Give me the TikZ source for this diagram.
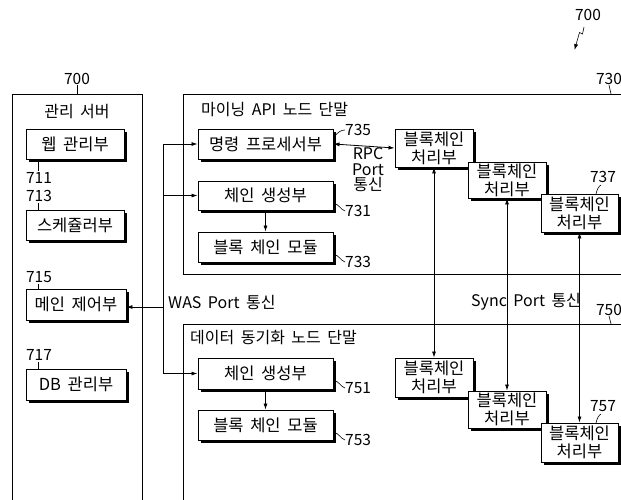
\documentclass[tikz,border=0pt]{standalone}
\usepackage{fontspec}
\setmainfont{Noto Sans CJK KR}[WordSpace=1.8]
\usetikzlibrary{shadows,arrows.meta}
\tikzset{
  box/.style={draw, fill=white, line width=0.9pt, inner sep=0pt, align=center,
    drop shadow={shadow xshift=2.5pt, shadow yshift=-2.5pt, opacity=1, fill=black},
    font=\fontsize{16.5}{18}\selectfont},
  lbl/.style={inner sep=0pt, font=\fontsize{15.5}{16}\selectfont},
  txt/.style={inner sep=0pt, font=\fontsize{16}{15.5}\selectfont, align=center},
  frame/.style={draw, line width=0.9pt},
  wire/.style={line width=0.8pt},
  arr/.style={line width=0.8pt, -{Latex[length=6pt,width=4pt]}},
  darr/.style={line width=0.8pt, {Latex[length=6pt,width=4pt]}-{Latex[length=6pt,width=4pt]}},
  lead/.style={line width=0.6pt}
}
\begin{document}
\begin{tikzpicture}[x=1pt,y=-1pt]
\useasboundingbox (0,0) rectangle (621,499);
\clip (0,0) rectangle (621,499);
\fill[white] (0,0) rectangle (621,499);

% frames
\draw[frame] (12,94) rectangle (142,520);
\draw[frame] (183,94) rectangle (650,274);
\draw[frame] (183,324) rectangle (650,530);

% frame labels
\node[lbl] (l700a) at (77,79) {700};
\draw[lead] (l700a.south) -- (77,94);
\node[lbl] (l730) at (609,79) {730};
\draw[lead] (l730.south) -- (611,94);
\node[lbl] (l750) at (609,310) {750};
\draw[lead] (l750.south) -- (611,324);

\node[lbl] (l700b) at (588,15) {700};
\coordinate (sq1) at (584,27);
\coordinate (sq2) at (582.5,34);
\coordinate (sq3) at (579.5,32.5);
\coordinate (sqt) at (574.5,50);
\draw[lead, -{Latex[length=6pt,width=4pt]}] (sq1) -- (sq2) -- (sq3) -- (sqt);

% titles
\node[txt] (t1) at (77,112) {관리 서버};
\node[txt, anchor=west] (t2) at (201,110) {마이닝 API 노드 단말};
\node[txt, anchor=west] (t3) at (190,338) {데이터 동기화 노드 단말};

% management server boxes
\node[box, minimum width=98, minimum height=30] (web) at (75,144) {웹 관리부};
\node[box, minimum width=98, minimum height=30] (sched) at (75,225) {스케쥴러부};
\node[box, minimum width=100, minimum height=31] (mainctl) at (76,304.5) {메인 제어부};
\node[box, minimum width=100, minimum height=31] (db) at (76,384.5) {DB 관리부};

\node[lbl] (l711) at (39,178) {711};
\node[lbl] (l713) at (39,196) {713};
\node[lbl] (l715) at (39,277) {715};
\node[lbl] (l717) at (39,355) {717};
\draw[lead] (web.south -| 38,0) -- (38,171);
\draw[lead] (38,203) -- (sched.north -| 38,0);
\draw[lead] (38,284) -- (mainctl.north -| 38,0);
\draw[lead] (38,362) -- (db.north -| 38,0);

% mining node
\node[box, minimum width=135, minimum height=30] (cmd) at (265.5,144) {명령 프로세서부};
\node[box, minimum width=135, minimum height=29] (chain1) at (265.5,195.5) {체인 생성부};
\node[box, minimum width=135, minimum height=30] (mod1) at (265.5,247) {블록 체인 모듈};
\draw[arr] (chain1.south) -- (mod1.north);

\node[box, minimum width=78, minimum height=38] (bc1) at (434,148) {블록체인\\처리부};
\node[box, minimum width=78, minimum height=36] (bc2) at (507,180) {블록체인\\처리부};
\node[box, minimum width=77, minimum height=38] (bc3) at (579.5,213) {블록체인\\처리부};

\node[lbl, anchor=west] (l735) at (345,130) {735};
\node[lbl, anchor=west] (l731) at (345,211) {731};
\node[lbl, anchor=west] (l733) at (345,262) {733};
\node[lbl] (l737) at (603,177) {737};
\draw[lead] (334,137) .. controls (338,132) and (341,130) .. (l735.west);
\draw[lead] (334,204) .. controls (338,203) and (341,210) .. (l731.west);
\draw[lead] (334,255) .. controls (338,254) and (341,261) .. (l733.west);
\draw[lead] (596,194) .. controls (597,189) and (599,186) .. (601,185);

\draw[darr] (cmd.east) -- (bc1.west);
\node[txt] (rpc) at (368,170) {RPC\\Port\\통신};

% data sync node
\node[box, minimum width=135, minimum height=31] (chain2) at (265.5,373.5) {체인 생성부};
\node[box, minimum width=135, minimum height=30] (mod2) at (265.5,425) {블록 체인 모듈};
\draw[arr] (chain2.south) -- (mod2.north);

\node[box, minimum width=78, minimum height=39] (bc4) at (434,377.5) {블록체인\\처리부};
\node[box, minimum width=78, minimum height=37] (bc5) at (507,409.5) {블록체인\\처리부};
\node[box, minimum width=77, minimum height=39] (bc6) at (579.5,442.5) {블록체인\\처리부};

\node[lbl, anchor=west] (l751) at (345,388) {751};
\node[lbl, anchor=west] (l753) at (345,440) {753};
\node[lbl] (l757) at (603,406) {757};
\draw[lead] (334,381) .. controls (338,380) and (341,387) .. (l751.west);
\draw[lead] (334,433) .. controls (338,432) and (341,439) .. (l753.west);
\draw[lead] (596,423) .. controls (597,418) and (599,415) .. (601,414);

% sync arrows
\draw[darr] (bc1.south) -- (bc4.north);
\draw[darr] (bc2.south) -- (bc5.north);
\draw[darr] (bc3.south) -- (bc6.north);
\node[txt, anchor=west] (sync) at (471,302) {Sync Port 통신};

% WAS bus
\coordinate (bus) at (163,0);
\draw[wire] (bus |- cmd.west) -- (bus |- chain2.west);
\draw[arr] (bus |- cmd.west) -- (cmd.west);
\draw[arr] (bus |- chain1.west) -- (chain1.west);
\draw[arr] (bus |- chain2.west) -- (chain2.west);
\draw[arr] (bus |- 0,307) -- (mainctl.east |- 0,307);
\node[txt, anchor=west] (was) at (168,302) {WAS Port 통신};
\end{tikzpicture}
\end{document}
